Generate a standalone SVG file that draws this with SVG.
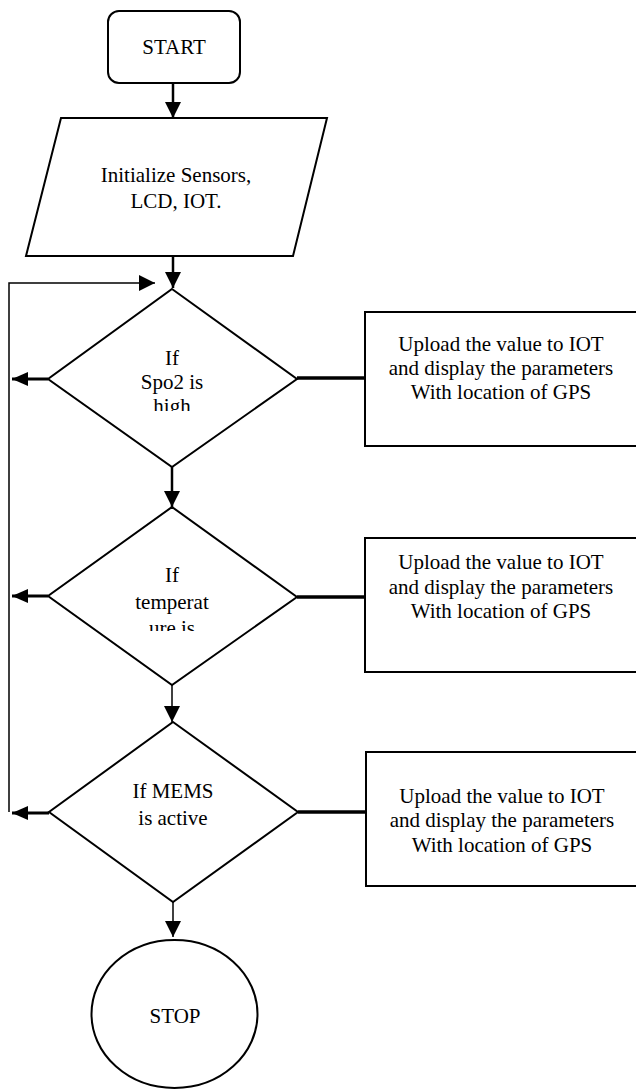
<svg xmlns="http://www.w3.org/2000/svg" width="636" height="1090" viewBox="0 0 636 1090">
<style>
.s{fill:#fff;stroke:#000;stroke-width:2}
.t{font-family:"Liberation Serif","Times New Roman",serif;font-size:21px;fill:#000;text-anchor:middle}
.c{fill:none;stroke:#000}
</style>
<defs>
<marker id="ah" markerUnits="userSpaceOnUse" markerWidth="16" markerHeight="16" refX="16" refY="8" orient="auto" viewBox="0 0 16 16">
<path d="M0,0 L16,8 L0,16 z" fill="#000"/>
</marker>
<marker id="ahs" markerUnits="userSpaceOnUse" markerWidth="16" markerHeight="14" refX="16" refY="7" orient="auto" viewBox="0 0 16 14">
<path d="M0,0 L16,7 L0,14 z" fill="#000"/>
</marker>
<clipPath id="clip1"><rect x="60" y="340" width="230" height="71"/></clipPath>
<clipPath id="clip2"><rect x="60" y="560" width="230" height="71"/></clipPath>
</defs>

<g id="connectors">
<line class="c" stroke-width="2.5" x1="173" y1="83" x2="173" y2="118" marker-end="url(#ah)"/>
<line class="c" stroke-width="2.5" x1="173" y1="256" x2="173" y2="288" marker-end="url(#ah)"/>
<polyline class="c" stroke-width="1.5" points="9,812 9,283 155,283" marker-end="url(#ah)"/>
<line class="c" stroke-width="3" x1="48" y1="379" x2="12" y2="379" marker-end="url(#ahs)"/>
<line class="c" stroke-width="3.5" x1="297" y1="378" x2="365" y2="378"/>
<line class="c" stroke-width="2.5" x1="172" y1="467" x2="172" y2="507" marker-end="url(#ah)"/>
<line class="c" stroke-width="3" x1="48" y1="596" x2="12" y2="596" marker-end="url(#ahs)"/>
<line class="c" stroke-width="3.5" x1="297" y1="597" x2="365" y2="597"/>
<line class="c" stroke-width="1.5" x1="172" y1="685" x2="172" y2="722" marker-end="url(#ah)"/>
<line class="c" stroke-width="3" x1="49" y1="813" x2="12" y2="813" marker-end="url(#ahs)"/>
<line class="c" stroke-width="3.5" x1="298" y1="812" x2="366" y2="812"/>
<line class="c" stroke-width="1.5" x1="173" y1="902" x2="173" y2="937" marker-end="url(#ah)"/>
</g>

<g id="start">
<rect class="s" x="108" y="11" width="132" height="72" rx="11"/>
<text class="t" x="174" y="54" font-size="20">START</text>
</g>

<g id="init">
<polygon class="s" points="61,118 327,118 293,256 26,256"/>
<text class="t" x="176" y="182">Initialize Sensors,</text>
<text class="t" x="176" y="208">LCD, IOT.</text>
</g>

<g id="spo2">
<polygon class="s" points="172,289 297,379 172,467 48,379"/>
<g clip-path="url(#clip1)">
<text class="t" x="172" y="365">If</text>
<text class="t" x="172" y="389">Spo2 is</text>
<text class="t" x="172" y="413">high</text>
</g>
</g>

<g id="box1">
<rect class="s" x="365" y="312" width="280" height="134"/>
<text class="t" x="501" y="351">Upload the value to IOT</text>
<text class="t" x="501" y="375">and display the parameters</text>
<text class="t" x="501" y="399">With location of GPS</text>
</g>

<g id="temp">
<polygon class="s" points="172,507 297,597 172,685 48,596"/>
<g clip-path="url(#clip2)">
<text class="t" x="172" y="582">If</text>
<text class="t" x="172" y="609">temperat</text>
<text class="t" x="172" y="635">ure is</text>
</g>
</g>

<g id="box2">
<rect class="s" x="365" y="538" width="280" height="134"/>
<text class="t" x="501" y="569">Upload the value to IOT</text>
<text class="t" x="501" y="594">and display the parameters</text>
<text class="t" x="501" y="618">With location of GPS</text>
</g>

<g id="mems">
<polygon class="s" points="173,722 298,812 173,902 49,812"/>
<text class="t" x="173" y="798">If MEMS</text>
<text class="t" x="173" y="825">is active</text>
</g>

<g id="box3">
<rect class="s" x="366" y="752" width="280" height="134"/>
<text class="t" x="502" y="803">Upload the value to IOT</text>
<text class="t" x="502" y="827">and display the parameters</text>
<text class="t" x="502" y="852">With location of GPS</text>
</g>

<g id="stop">
<ellipse class="s" cx="174.5" cy="1014" rx="83" ry="74"/>
<text class="t" x="175" y="1023" font-size="22">STOP</text>
</g>
</svg>
